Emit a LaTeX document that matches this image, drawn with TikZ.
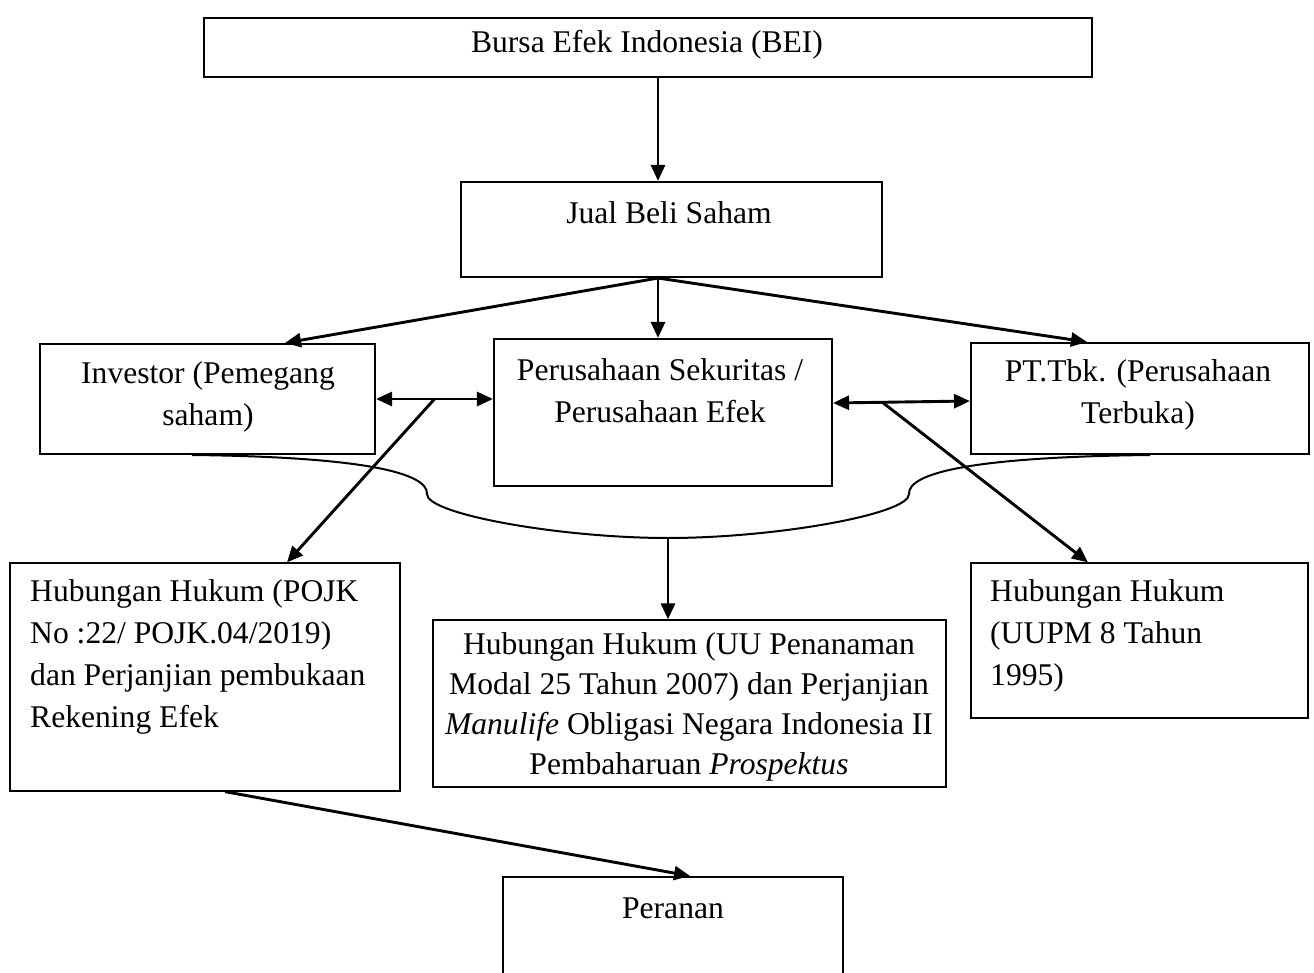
\documentclass[tikz,border=0pt]{standalone}
\usepackage{fontspec}
\setmainfont{Liberation Serif}
\usetikzlibrary{arrows.meta,calc}
\begin{document}
\begin{tikzpicture}[x=1pt,y=-1pt,
 box/.style={draw,line width=2.1pt,inner sep=0pt},
 thinbox/.style={draw,line width=1.3pt,inner sep=0pt},
 txt/.style={inner sep=0pt,font=\fontsize{31.6}{42}\selectfont},
 arr/.style={line width=2.9pt,-{Triangle[length=16pt,width=14pt]}},
 darr/.style={line width=2.9pt,{Triangle[length=16pt,width=14pt]}-{Triangle[length=16pt,width=14pt]}},
 bracecurve/.style={line width=2pt}]
\clip (0,0) rectangle (1314,973);
\fill[white] (0,0) rectangle (1314,973);
% boxes
\node[box,minimum width=888,minimum height=59] (bei) at (648,47.5) {};
\node[box,minimum width=421,minimum height=95] (jual) at (671.5,229.5) {};
\node[box,minimum width=335,minimum height=110] (inv) at (207.5,399) {};
\node[box,minimum width=338,minimum height=147] (sek) at (663,412.5) {};
\node[box,minimum width=338,minimum height=111] (pt) at (1140,398.5) {};
\node[thinbox,minimum width=390,minimum height=228] (hl) at (205,677) {};
\node[thinbox,minimum width=513,minimum height=167] (hm) at (689.5,703.5) {};
\node[thinbox,minimum width=337,minimum height=155] (hr) at (1139.5,640.5) {};
\node[box,minimum width=340,minimum height=108] (per) at (673,931) {};
% texts
\node[txt] (beit) at (647,45) {Bursa Efek Indonesia (BEI)};
\node[txt] (jualt) at (669,213) {Jual Beli Saham};
\node[txt,align=center] (invt) at (208,397) {Investor (Pemegang\\saham)};
\node[txt,align=center] (sekt) at (660,391) {Perusahaan Sekuritas /\\Perusahaan Efek};
\node[txt,align=center] (ptt) at (1138,395) {PT.Tbk. (Perusahaan\\Terbuka)};
\node[txt,align=left,anchor=west] (hlt) at (30,657) {Hubungan Hukum (POJK\\No :22/ POJK.04/2019)\\dan Perjanjian pembukaan\\Rekening Efek};
\node[txt,align=center,font=\fontsize{31.6}{40}\selectfont] (hmt) at (689,707) {Hubungan Hukum (UU Penanaman\\Modal 25 Tahun 2007) dan Perjanjian\\\textit{Manulife} Obligasi Negara Indonesia II\\Pembaharuan \textit{Prospektus}};
\node[txt,align=left,anchor=west] (hrt) at (990,636) {Hubungan Hukum\\(UUPM 8 Tahun\\1995)};
\node[txt] (pert) at (673,908) {Peranan};
% connectors
\draw[arr] ([xshift=10pt]bei.south) -- ([xshift=10pt]bei.south |- jual.north);
\coordinate (js) at ([xshift=-13.5pt]jual.south);
\draw[arr] (js) -- (js |- sek.north);
\draw[arr] (js) -- ([xshift=77.5pt]inv.north);
\draw[arr] (js) -- ([xshift=-53pt]pt.north);
\draw[darr] (inv.east) -- (inv.east -| sek.west);
\draw[darr] ([yshift=9.5pt]sek.east) -- ([yshift=-2.5pt]pt.west);
\coordinate (m1) at ($(inv.east)!0.5!(inv.east -| sek.west)$);
\draw[arr] (m1) -- ([xshift=82pt]hl.north);
\coordinate (m2) at ($([yshift=9.5pt]sek.east)!0.36!([yshift=-2.5pt]pt.west)$);
\draw[arr] (m2) -- ([xshift=-51.5pt]hr.north);
% brace
\coordinate (bl) at (192,455);
\coordinate (br) at (1150,455);
\coordinate (bt) at (668,538);
\draw[bracecurve] (bl) .. controls (370,457) and (428,474) .. (427,494) .. controls (426,514) and (560,538) .. (bt) .. controls (776,538) and (910,514) .. (909,494) .. controls (908,474) and (966,457) .. (br);
\draw[arr] (bt) -- (bt |- hm.north);
\draw[arr] ([xshift=20pt]hl.south) -- ([xshift=17pt]per.north);
\end{tikzpicture}
\end{document}
